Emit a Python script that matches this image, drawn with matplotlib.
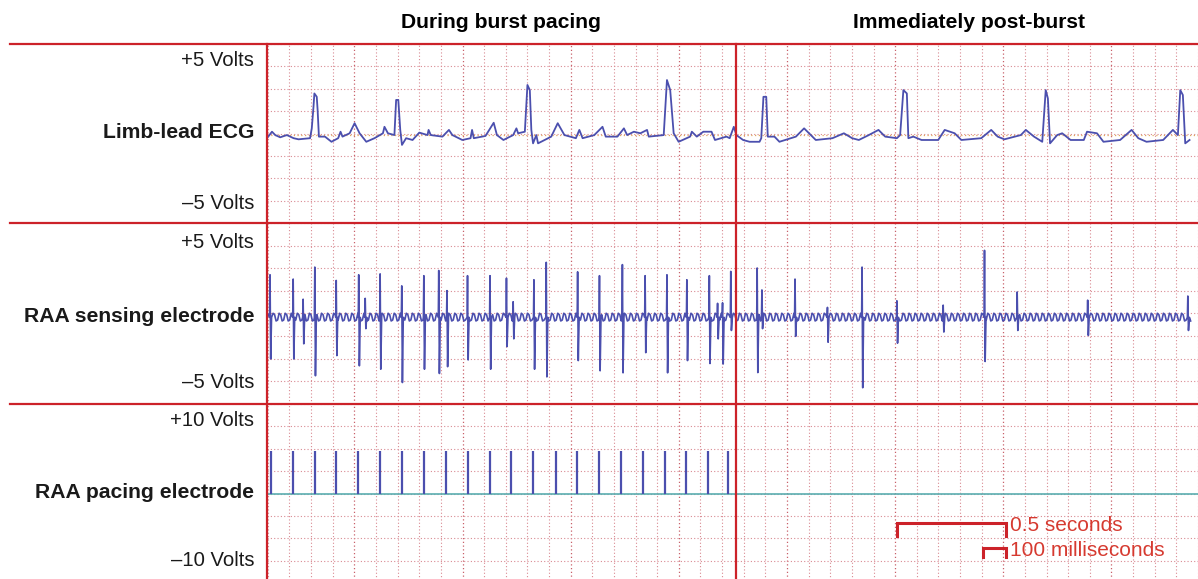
import numpy as np
import matplotlib.pyplot as plt
from matplotlib.lines import Line2D

plt.rcParams['font.family'] = ['Liberation Sans', 'DejaVu Sans']

# time axis in seconds, amplitude in grid divisions (8 divisions per panel)
t_start, t_end = 0.096, 4.367
burst_end = 2.248

# limb-lead ECG vertices
ecg_t = [0.096, 0.119, 0.134, 0.157, 0.188, 0.219, 0.242, 0.295, 0.303, 0.311, 0.315, 0.326, 0.330,
         0.336, 0.364, 0.394, 0.425, 0.436, 0.445, 0.478, 0.501, 0.524, 0.555, 0.593, 0.632, 0.639,
         0.655, 0.685, 0.693, 0.703, 0.712, 0.720, 0.739, 0.769, 0.800, 0.838, 0.843, 0.853, 0.907,
         0.937, 0.953, 0.999, 1.037, 1.044, 1.052, 1.106, 1.144, 1.159, 1.189, 1.234, 1.249, 1.257,
         1.288, 1.300, 1.311, 1.318, 1.326, 1.341, 1.349, 1.410, 1.440, 1.471, 1.524, 1.540, 1.555,
         1.609, 1.647, 1.662, 1.716, 1.746, 1.761, 1.792, 1.822, 1.853, 1.861, 1.930, 1.945, 1.960,
         1.976, 1.999, 2.052, 2.060, 2.083, 2.113, 2.151, 2.167, 2.220, 2.235, 2.254, 2.266, 2.297,
         2.327, 2.373, 2.381, 2.391, 2.404, 2.411, 2.442, 2.465, 2.541, 2.579, 2.602, 2.633, 2.710,
         2.763, 2.801, 2.832, 2.878, 2.923, 2.954, 3.008, 3.023, 3.038, 3.054, 3.061, 3.084, 3.122,
         3.199, 3.229, 3.275, 3.306, 3.398, 3.444, 3.474, 3.505, 3.581, 3.604, 3.642, 3.680, 3.696,
         3.706, 3.716, 3.749, 3.772, 3.811, 3.872, 3.887, 3.933, 3.963, 4.040, 4.093, 4.124, 4.162,
         4.239, 4.284, 4.307, 4.318, 4.330, 4.341, 4.361]
ecg_v = [-0.21, 0.08, -0.07, -0.17, -0.07, -0.21, -0.26, -0.21, 0.23, 1.20, 1.79, 1.64, 1.05,
         -0.14, -0.14, -0.37, -0.21, 0.08, -0.14, 0.01, 0.46, 0.01, -0.37, -0.21, 0.01, 0.30,
         0.01, -0.07, 1.50, 1.50, 0.16, -0.51, -0.21, -0.29, 0.04, -0.07, 0.16, -0.07, -0.14,
         0.16, -0.07, -0.29, -0.21, 0.16, -0.21, -0.11, 0.48, -0.07, -0.29, -0.07, 0.23, 0.01,
         0.08, 2.17, 1.94, 0.16, -0.44, -0.07, -0.44, -0.14, 0.46, -0.07, -0.21, 0.16, -0.21,
         -0.07, 0.30, -0.14, -0.14, 0.23, -0.07, 0.08, 0.01, 0.16, -0.14, -0.07, 2.39, 1.94,
         0.01, -0.37, -0.14, 0.08, -0.14, 0.08, 0.08, -0.29, -0.14, -0.21, 0.30, -0.07, -0.29,
         -0.37, -0.37, -0.21, 1.64, 1.64, -0.14, -0.14, -0.37, -0.14, 0.23, 0.01, -0.29, -0.21,
         0.01, -0.21, -0.29, -0.07, 0.16, -0.14, -0.21, -0.07, 1.94, 1.79, -0.21, -0.14, -0.29,
         -0.29, 0.16, 0.01, -0.29, -0.21, 0.16, -0.14, -0.26, -0.07, 0.16, -0.14, -0.37, 1.94,
         1.57, -0.44, -0.07, 0.01, -0.29, -0.29, 0.08, 0.01, -0.37, -0.29, 0.16, -0.21, -0.37,
         -0.29, 0.16, -0.07, 1.94, 1.72, -0.44, -0.29]

# RAA sensing electrode: deflection times, upper and lower extremes
sense_t = [0.110, 0.217, 0.263, 0.317, 0.416, 0.520, 0.550, 0.619, 0.719, 0.821, 0.890, 0.928,
           1.023, 1.127, 1.203, 1.234, 1.330, 1.387, 1.532, 1.633, 1.739, 1.844, 1.945, 2.037,
           2.141, 2.179, 2.202, 2.240, 2.362, 2.384, 2.537, 2.687, 2.847, 3.008, 3.222, 3.413,
           3.564, 3.890, 4.353]
sense_hi = [1.71, 1.52, 0.63, 2.05, 1.46, 1.71, 0.67, 1.75, 1.22, 1.67, 1.90, 1.01,
            1.67, 1.67, 1.56, 0.52, 1.49, 2.26, 1.84, 1.67, 2.16, 1.67, 1.71, 1.49,
            1.67, 0.45, 0.47, 1.86, 2.01, 1.04, 1.52, 0.27, 2.05, 0.56, 0.37, 2.79,
            0.95, 0.59, 0.77]
sense_lo = [-2.01, -2.01, -1.34, -2.75, -1.86, -2.31, -0.67, -2.46, -3.05, -2.46, -2.65, -2.35,
            -2.05, -2.46, -1.46, -1.12, -2.46, -2.80, -2.08, -2.53, -2.62, -1.73, -2.62, -2.08,
            -2.21, -1.12, -2.23, -0.75, -2.61, -0.67, -1.01, -1.27, -3.28, -1.31, -0.82, -2.12,
            -0.75, -0.97, -0.75]
# interference on the sensing baseline: one cycle
ripple_period = 0.028
ripple_cycle = [0.18, 0.12, -0.16, -0.12]
sense_base = -0.17

# RAA pacing electrode: stimulus times and heights
pace_t = [0.113, 0.214, 0.317, 0.416, 0.518, 0.619, 0.722, 0.821, 0.923, 1.024, 1.125,
          1.226, 1.327, 1.430, 1.531, 1.632, 1.733, 1.834, 1.934, 2.035, 2.136, 2.229]
pace_h = [1.9] * len(pace_t)

trace_col = '#4b4fae'
grid_col = '#d98a92'
red = '#cc2229'

fig = plt.figure(figsize=(11.98, 5.79), dpi=100)
W, H = 1198, 579
panels = [(44, 223), (223, 404), (404, 583)]
axes = []
for top, bot in panels:
    ax = fig.add_axes([267 / W, 1 - bot / H, (W - 267) / W, (bot - top) / H])
    ax.set_xlim(t_start, t_end)
    ax.set_ylim(-4, 4)
    ax.set_xticks(np.arange(0.5, 4.5, 0.5))
    ax.set_xticks(np.arange(0.1, 4.4, 0.1), minor=True)
    ax.set_yticks(np.arange(-4, 5, 1))
    ax.grid(which='minor', axis='x', color=grid_col, lw=0.8, ls=(0, (1, 2)))
    ax.grid(which='major', axis='x', color='#c8606a', lw=0.9, ls=(0, (1, 2)))
    ax.grid(which='major', axis='y', color=grid_col, lw=0.8, ls=(0, (1, 2)))
    ax.tick_params(which='both', length=0, labelbottom=False, labelleft=False)
    for s in ax.spines.values():
        s.set_visible(False)
    ax.set_axisbelow(True)
    axes.append(ax)

ax_ecg, ax_sen, ax_pace = axes

# ECG
ax_ecg.axhline(-0.05, color='#e0a860', lw=0.9, ls=(0, (1, 2)))
ax_ecg.plot(ecg_t, ecg_v, color=trace_col, lw=1.3)

# sensing trace: ripple baseline with deflections
n_step = len(ripple_cycle)
rt = np.arange(t_start, t_end, ripple_period / n_step)
rv = sense_base + np.resize(ripple_cycle, len(rt))
keep = np.ones(len(rt), bool)
pts_t, pts_v = [], []
for t, hi, lo in zip(sense_t, sense_hi, sense_lo):
    keep &= ~((rt > t - 0.003) & (rt < t + 0.008))
    pts_t += [t - 0.002, t, t + 0.003, t + 0.007]
    pts_v += [sense_base, hi, lo, sense_base]
all_t = np.concatenate([rt[keep], pts_t])
all_v = np.concatenate([rv[keep], pts_v])
order = np.argsort(all_t, kind='stable')
ax_sen.plot(all_t[order], all_v[order], color=trace_col, lw=1.2)

# pacing
ax_pace.axhline(0, color='#5aaeb0', lw=1.2)
ax_pace.vlines(pace_t, 0, pace_h, color=trace_col, lw=1.6)

# scale bars
bar_y1, bar_y2 = -1.33, -2.44
ax_pace.plot([3.008, 3.008, 3.513, 3.513], [bar_y1 - 0.55, bar_y1, bar_y1, bar_y1 - 0.55],
             color=red, lw=2.2, solid_joinstyle='miter', clip_on=False)
ax_pace.plot([3.404, 3.404, 3.513, 3.513], [bar_y2 - 0.4, bar_y2, bar_y2, bar_y2 - 0.4],
             color=red, lw=2.2, solid_joinstyle='miter', clip_on=False)
ax_pace.text(3.532, bar_y1 - 0.1, '0.5 seconds', color='#d63a30', fontsize=15, va='center', ha='left')
ax_pace.text(3.532, bar_y2 - 0.12, '100 milliseconds', color='#d63a30', fontsize=15, va='center', ha='left')

# red frame lines
for y in (44, 223, 404):
    fig.add_artist(Line2D([10 / W, 1], [1 - y / H, 1 - y / H], color=red, lw=1.6))
for x in (267, 736):
    fig.add_artist(Line2D([x / W, x / W], [1 - 44 / H, 0], color=red, lw=1.6))

# labels
fig.text(501 / W, 1 - 23 / H, 'During burst pacing', ha='center', va='center', fontsize=15.2, fontweight='bold')
fig.text(969 / W, 1 - 23 / H, 'Immediately post-burst', ha='center', va='center', fontsize=15.2, fontweight='bold')
left_labels = [(60, '+5 Volts', 'normal'), (133, 'Limb-lead ECG', 'bold'), (203, '\u20135 Volts', 'normal'),
               (242, '+5 Volts', 'normal'), (316, 'RAA sensing electrode', 'bold'), (383, '\u20135 Volts', 'normal'),
               (420, '+10 Volts', 'normal'), (493, 'RAA pacing electrode', 'bold'), (561, '\u201310 Volts', 'normal')]
for y, s, w in left_labels:
    fs = 15.2 if w == 'bold' else 14.6
    fig.text(254 / W, 1 - y / H, s, ha='right', va='center', fontsize=fs, fontweight=w, color='#1a1a1a')

fig.savefig('out.png', dpi=100)
